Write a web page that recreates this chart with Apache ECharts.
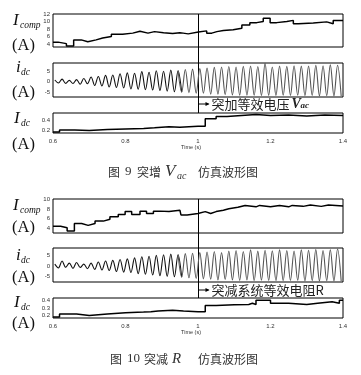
<!DOCTYPE html>
<html><head><meta charset="utf-8">
<script src="https://cdn.jsdelivr.net/npm/echarts@6/dist/echarts.min.js"></script>
<style>html,body{margin:0;padding:0;background:#fff}#c{width:361px;height:375px}</style>
</head><body><div id="c"></div>
<script>
// ---------- data ----------
const xTicks = [0.6, 0.8, 1, 1.2, 1.4];
const eventTime = 1;

// Fig 9 : step of V_ac
const f9IcompT = [0.600,0.614,0.637,0.657,0.678,0.696,0.719,0.737,0.761,0.792,0.820,0.840,0.862,0.880,0.905,0.930,0.950,0.959,0.973,1.001,1.024,1.038,1.052,1.070,1.097,1.121,1.143,1.162,1.180,1.199,1.217,1.245,1.263,1.277,1.318,1.355,1.373,1.400];
const f9IcompV = [4.5,4.1,3.5,5.1,4.6,5.1,5.6,6.0,6.6,6.9,7.4,6.9,7.3,7.0,6.8,7.0,6.9,6.7,7.2,7.5,6.9,7.3,7.6,7.8,8.2,9.1,9.7,10.0,10.9,9.7,10.0,10.3,9.4,9.6,9.9,9.4,10.3,10.3];
const waveStart = 0.605, waveHalf = 0.01, waveGreyFrom = 0.945;
const f9IdcWave = [
 0.8,-0.6,1.2,-0.8,0.6,-0.9,1.0,-1.2,1.5,-1.0,
 2.2,-1.8,2.5,-2.0,3.0,-2.5,3.2,-2.8,3.8,-3.0,
 4.2,-3.5,4.0,-3.6,4.8,-3.8,4.5,-4.0,5.2,-4.2,
 5.0,-4.5,5.5,-4.8,5.2,-5.0,5.8,-5.2,6.0,-5.5,
 6.2,-5.5,6.5,-6.0,6.8,-6.0,7.0,-6.2,7.2,-6.3,
 7.0,-6.5,7.3,-6.4,7.5,-6.5,7.2,-6.6,8.8,-6.5,
 7.0,-6.6,7.5,-6.5,7.3,-6.6,7.6,-6.5,7.4,-6.7,
 7.5,-6.6,7.8,-6.8,7.6,-6.7,8.0,-6.8,7.8,-6.9];
const f9IdcT = [0.600,0.618,0.660,0.700,0.750,0.800,0.850,0.880,0.920,0.950,1.000,1.020,1.050,1.080,1.120,1.160,1.200,1.250,1.300,1.350,1.400];
const f9IdcV = [0.17,0.21,0.20,0.22,0.23,0.24,0.25,0.27,0.26,0.28,0.28,0.43,0.47,0.49,0.51,0.49,0.50,0.48,0.50,0.49,0.50];

// Fig 10 : step of R
const f10IcompT = [0.600,0.621,0.639,0.659,0.679,0.697,0.716,0.739,0.757,0.780,0.799,0.817,0.840,0.858,0.877,0.895,0.920,0.950,0.953,0.970,1.000,1.020,1.035,1.050,1.070,1.085,1.110,1.130,1.160,1.170,1.200,1.225,1.250,1.260,1.290,1.310,1.340,1.360,1.400];
const f10IcompV = [4.4,4.1,3.4,5.0,4.6,5.0,5.5,5.9,6.4,6.9,7.5,6.9,7.6,7.1,7.6,7.5,7.8,7.8,6.8,7.1,7.5,7.1,7.5,7.8,8.1,8.4,8.8,8.5,8.8,8.5,8.8,8.5,8.8,8.6,8.9,8.6,8.9,8.7,8.7];
const f10IdcWave = [
 1.0,-0.8,2.5,-0.5,1.5,-1.0,1.8,-0.6,1.0,-1.2,
 1.5,-1.5,2.0,-1.8,2.5,-2.0,2.8,-2.5,3.2,-2.8,
 3.5,-3.0,4.0,-3.5,4.5,-3.8,4.8,-4.2,5.2,-4.5,
 5.5,-4.8,5.8,-5.0,5.5,-5.2,6.0,-5.5,6.2,-5.8,
 6.5,-6.0,6.8,-6.2,7.0,-6.5,6.5,-6.3,7.2,-6.5,
 7.5,-6.8,7.0,-6.5,7.8,-6.8,7.2,-6.6,7.6,-6.8,
 7.4,-6.8,7.8,-6.9,7.5,-6.8,7.3,-6.7,7.8,-7.0,
 7.6,-6.8,8.0,-7.0,7.5,-6.9,7.9,-7.0,8.2,-7.1];
const f10IdcT = [0.600,0.618,0.650,0.665,0.700,0.750,0.800,0.850,0.870,0.890,0.930,0.960,1.000,1.020,1.050,1.100,1.140,1.150,1.160,1.200,1.250,1.300,1.330,1.370,1.390,1.400];
const f10IdcV = [0.18,0.22,0.22,0.20,0.22,0.235,0.245,0.25,0.26,0.27,0.26,0.25,0.25,0.33,0.34,0.345,0.36,0.345,0.40,0.36,0.345,0.36,0.38,0.36,0.40,0.40];

// ---------- helpers ----------
const pair = (T, V) => T.map((t, i) => [t, V[i]]);
const wave = W => W.map((v, i) => [+(waveStart + i * waveHalf).toFixed(3), v]);
const waveA = W => wave(W).filter(p => p[0] <= waveGreyFrom + 0.011);
const waveB = W => wave(W).filter(p => p[0] >= waveGreyFrom - 0.001);

const grids = [
  {top: 14, height: 33}, {top: 63, height: 34}, {top: 113, height: 20},
  {top: 199, height: 34}, {top: 248, height: 34}, {top: 298, height: 20}
].map(g => Object.assign({left: 53, width: 290, show: true, borderColor: '#000', borderWidth: 1, backgroundColor: 'transparent'}, g));

const yCfg = [
  {min: 3.2, max: 12, vals: [4,6,8,10,12]},
  {min: -7.3, max: 8.9, vals: [-5,0,5]},
  {min: 0.15, max: 0.54, vals: [0.2,0.4]},
  {min: 3, max: 10.15, vals: [4,6,8,10]},
  {min: -7.5, max: 8.7, vals: [-5,0,5]},
  {min: 0.167, max: 0.43, vals: [0.2,0.3,0.4]}
];
const tickFont = {fontSize: 6, color: '#333', fontFamily: 'Liberation Sans'};

const xAxes = grids.map((g, i) => ({
  type: 'value', gridIndex: i, min: 0.6, max: 1.4, interval: 0.2,
  axisLine: {show: false}, axisTick: {show: false}, splitLine: {show: false},
  axisLabel: Object.assign({show: i === 2 || i === 5, margin: 5,
    formatter: v => String(+v.toFixed(1))}, tickFont)
}));
const yAxes = yCfg.map((c, i) => ({
  type: 'value', gridIndex: i, min: c.min, max: c.max,
  axisLine: {show: false}, axisTick: {show: false}, splitLine: {show: false},
  axisLabel: Object.assign({margin: 3, customValues: c.vals, formatter: v => String(v)}, tickFont)
}));

const lineSeries = (i, data, opt) => Object.assign({
  type: 'line', xAxisIndex: i, yAxisIndex: i, data: data, symbol: 'none',
  lineStyle: {color: '#000', width: 1.5}, animation: false
}, opt);
const waveStyle = c => ({smooth: 0.35, lineStyle: {color: c, width: 1.1}});

const series = [
  lineSeries(0, pair(f9IcompT, f9IcompV), {step: 'end'}),
  lineSeries(1, waveA(f9IdcWave), waveStyle('#111')),
  lineSeries(1, waveB(f9IdcWave), waveStyle('#555')),
  lineSeries(2, pair(f9IdcT, f9IdcV), {step: 'end'}),
  lineSeries(3, pair(f10IcompT, f10IcompV), {step: 'end'}),
  lineSeries(4, waveA(f10IdcWave), waveStyle('#111')),
  lineSeries(4, waveB(f10IdcWave), waveStyle('#555')),
  lineSeries(5, pair(f10IdcT, f10IdcV), {step: 'end'})
];

const chart = echarts.init(document.getElementById('c'), null, {renderer: 'canvas'});
chart.setOption({animation: false, backgroundColor: '#fff', grid: grids, xAxis: xAxes, yAxis: yAxes, series: series});

// ---------- text & annotations ----------
const serif = 'Liberation Serif';
const cjk = 'Noto Sans CJK SC';
const T = (x, y, text, size, opt) => Object.assign({type: 'text', x: x, y: y, silent: true,
  style: Object.assign({text: text, fontSize: size, fontFamily: serif, fill: '#111', textVerticalAlign: 'middle'}, opt || {})});
const it = {fontStyle: 'italic'};

const g = [];
function nameLabel(x, y, main, sub) {
  g.push(T(x, y, main, 17, it));
  g.push(T(x + (main === 'I' ? 7 : 5), y + 4, sub, 9.5, it));
}
nameLabel(13, 21, 'I', 'comp');
g.push(T(12, 46, '(A)', 16.5));
nameLabel(16, 68, 'i', 'dc');
g.push(T(12, 93, '(A)', 16.5));
nameLabel(14, 119, 'I', 'dc');
g.push(T(12, 145, '(A)', 16.5));

nameLabel(13, 206, 'I', 'comp');
g.push(T(12, 228, '(A)', 16.5));
nameLabel(16, 256, 'i', 'dc');
g.push(T(12, 278, '(A)', 16.5));
nameLabel(14, 303, 'I', 'dc');
g.push(T(12, 324, '(A)', 16.5));

// Time labels
g.push(T(181, 147, 'Time (s)', 5.5, {fontFamily: 'Liberation Sans', fill: '#333'}));
g.push(T(181, 332, 'Time (s)', 5.5, {fontFamily: 'Liberation Sans', fill: '#333'}));

// vertical event lines through the panels
function eventLine(gTop, gBot, yAnn, txt) {
  const p1 = chart.convertToPixel({gridIndex: gTop}, [eventTime, yCfg[gTop].max]);
  const p2 = chart.convertToPixel({gridIndex: gBot}, [eventTime, yCfg[gBot].max]);
  const x0 = Math.round(p1[0]) + 0.5;
  g.push({type: 'line', silent: true, shape: {x1: x0, y1: p1[1], x2: x0, y2: p2[1]}, style: {stroke: '#000', lineWidth: 1}});
  g.push({type: 'line', silent: true, shape: {x1: x0, y1: yAnn, x2: x0 + 10, y2: yAnn}, style: {stroke: '#000', lineWidth: 1}});
  g.push({type: 'polygon', silent: true, shape: {points: [[x0 + 11, yAnn], [x0 + 7, yAnn - 2], [x0 + 7, yAnn + 2]]}, style: {fill: '#000'}});
  g.push(T(x0 + 13, yAnn, txt, 13, {fontFamily: cjk, fill: '#222'}));
  return x0;
}
const x9 = eventLine(0, 2, 104, '突加等效电压');
g.push(T(x9 + 93, 104, 'V', 14, {fontStyle: 'italic', fontWeight: 'bold', fill: '#222'}));
g.push(T(x9 + 102, 106, 'ac', 9, {fontStyle: 'italic', fontWeight: 'bold', fill: '#222'}));
eventLine(3, 5, 290, '突减系统等效电阻R');

// captions
const cap = {fontFamily: cjk, fill: '#333'};
g.push(T(108, 172, '图', 12, cap));
g.push(T(125, 172, '9', 13, {fill: '#333'}));
g.push(T(137, 172, '突增', 12, cap));
g.push(T(165, 172, 'V', 17, {fontStyle: 'italic', fill: '#333'}));
g.push(T(177, 176, 'ac', 10, {fontStyle: 'italic', fill: '#333'}));
g.push(T(198, 172, '仿真波形图', 12, cap));

g.push(T(110, 359, '图', 12, cap));
g.push(T(127, 359, '10', 13, {fill: '#333'}));
g.push(T(144, 359, '突减', 12, cap));
g.push(T(172, 359, 'R', 15, {fontStyle: 'italic', fill: '#333'}));
g.push(T(198, 359, '仿真波形图', 12, cap));

chart.setOption({graphic: g});
</script></body></html>
